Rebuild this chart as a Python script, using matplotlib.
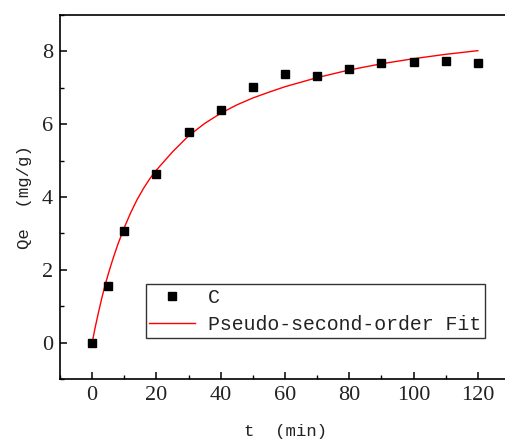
import matplotlib
matplotlib.use("Agg")
import matplotlib.pyplot as plt
from matplotlib.ticker import MultipleLocator

# measured adsorption data
t_data = [0, 5, 10, 20, 30, 40, 50, 60, 70, 80, 90, 100, 110, 120]
qe_data = [0.0, 1.55, 3.07, 4.63, 5.78, 6.40, 7.01, 7.37, 7.32, 7.53, 7.67, 7.70, 7.73, 7.67]

# fitted curve
t_fit = [0, 1, 2, 3, 4, 5, 6, 7, 8, 9, 10, 12, 14, 16, 18, 20, 25, 30, 35, 40, 45, 50, 55, 60,
         70, 80, 90, 100, 110, 120]
qe_fit = [0.0, 0.44, 0.84, 1.22, 1.57, 1.88, 2.17, 2.44, 2.70, 2.93, 3.16, 3.57, 3.93, 4.24,
          4.51, 4.74, 5.24, 5.68, 6.02, 6.30, 6.53, 6.72, 6.88, 7.03, 7.28, 7.49, 7.66, 7.80,
          7.92, 8.02]

SERIF = "Liberation Serif"
MONO = "Liberation Mono"

fig = plt.figure(figsize=(5.05, 4.42), dpi=100)
ax = fig.add_axes([60 / 505, 63 / 442, 450 / 505, 364 / 442])

ax.plot(t_data, qe_data, "s", color="black", markersize=6, label="C", zorder=3)
ax.plot(t_fit, qe_fit, "-", color="red", linewidth=1.0, label="Pseudo-second-order Fit", zorder=2)

ax.set_xlim(-10, 130)
ax.set_ylim(-1, 9)
ax.xaxis.set_major_locator(MultipleLocator(20))
ax.xaxis.set_minor_locator(MultipleLocator(10))
ax.yaxis.set_major_locator(MultipleLocator(2))
ax.yaxis.set_minor_locator(MultipleLocator(1))
ax.tick_params(which="major", direction="in", length=5, width=1.1, pad=5)
ax.tick_params(which="minor", direction="in", length=3, width=1.0)

for lab in ax.get_xticklabels() + ax.get_yticklabels():
    lab.set_fontfamily(SERIF)
    lab.set_fontsize(16)
    lab.set_color("#222222")

for sp in ax.spines.values():
    sp.set_linewidth(1.2)
ax.spines["right"].set_visible(False)

ax.set_xlabel("t  (min)", fontfamily=MONO, fontsize=12.5, labelpad=14, color="#222222")
ax.set_ylabel("Qe  (mg/g)", fontfamily=MONO, fontsize=12.5, labelpad=7, color="#222222")

leg = ax.legend(
    loc="lower left", bbox_to_anchor=(0.19, 0.113), borderaxespad=0,
    prop={"family": MONO, "size": 14.3}, numpoints=1,
    handlelength=2.3, handletextpad=0.65, borderpad=0.2, labelspacing=0.4,
    frameon=True, fancybox=False, shadow=False,
)
leg.get_frame().set_edgecolor("black")
leg.get_frame().set_linewidth(1.0)
for txt in leg.get_texts():
    txt.set_color("#222222")

fig.savefig("out.png", dpi=100)
